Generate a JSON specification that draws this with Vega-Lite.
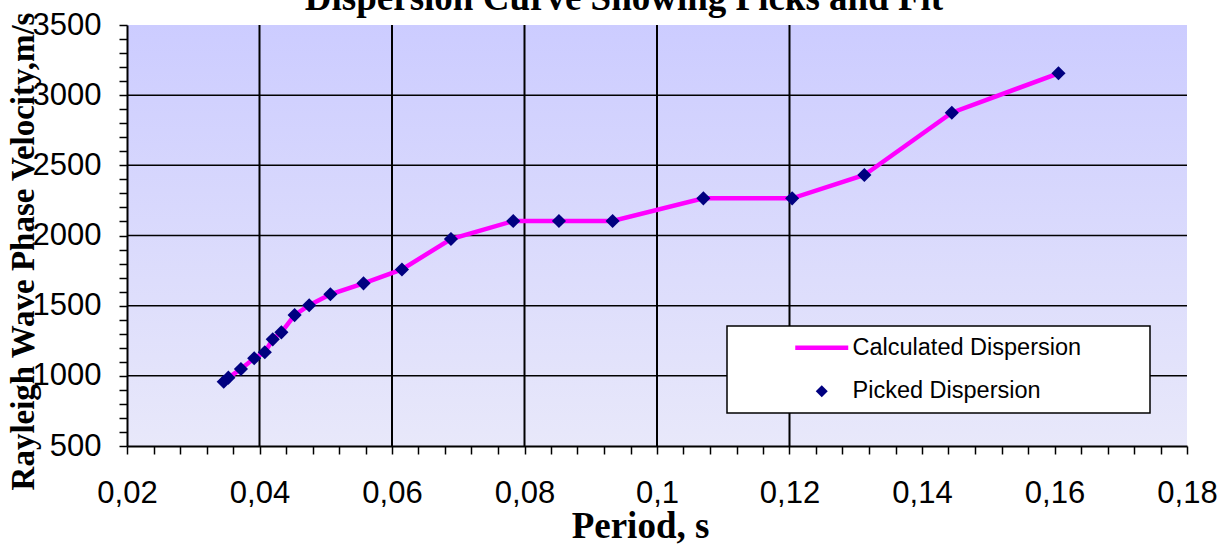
{
  "$schema": "https://vega.github.io/schema/vega-lite/v6.json",
  "width": 1060,
  "height": 421,
  "autosize": {"type": "none"},
  "padding": {"left": 127, "top": 25, "right": 39, "bottom": 112},
  "background": "white",
  "title": {
    "text": "Dispersion Curve Showing Picks and Fit",
    "font": "Liberation Serif",
    "fontSize": 37,
    "fontWeight": "bold",
    "color": "black",
    "anchor": "middle",
    "frame": "group",
    "dx": -33,
    "dy": 38,
    "baseline": "alphabetic",
    "offset": 0
  },
  "config": {"view": {"stroke": null}, "axis": {"labelOverlap": false}},
  "datasets": {
    "picks": [
      {"period": 0.0346, "velocity": 958},
      {"period": 0.0353, "velocity": 987},
      {"period": 0.0372, "velocity": 1049},
      {"period": 0.0392, "velocity": 1125},
      {"period": 0.0408, "velocity": 1168},
      {"period": 0.0420, "velocity": 1260},
      {"period": 0.0433, "velocity": 1310},
      {"period": 0.0453, "velocity": 1433},
      {"period": 0.0475, "velocity": 1503},
      {"period": 0.0507, "velocity": 1581},
      {"period": 0.0557, "velocity": 1659},
      {"period": 0.0615, "velocity": 1758},
      {"period": 0.0689, "velocity": 1975},
      {"period": 0.0783, "velocity": 2103},
      {"period": 0.0852, "velocity": 2103},
      {"period": 0.0933, "velocity": 2103},
      {"period": 0.1070, "velocity": 2265},
      {"period": 0.1204, "velocity": 2265},
      {"period": 0.1313, "velocity": 2431},
      {"period": 0.1445, "velocity": 2875},
      {"period": 0.1606, "velocity": 3156}
    ],
    "vgrid": [
      {"period": 0.04}, {"period": 0.06}, {"period": 0.08}, {"period": 0.1}, {"period": 0.12}
    ],
    "hgrid": [
      {"velocity": 1000}, {"velocity": 1500}, {"velocity": 2000}, {"velocity": 2500}, {"velocity": 3000}
    ]
  },
  "layer": [
    {
      "data": {"values": [{}]},
      "mark": {
        "type": "rect",
        "fill": {
          "gradient": "linear",
          "x1": 0, "y1": 0, "x2": 0, "y2": 1,
          "stops": [
            {"offset": 0, "color": "#CCCCFF"},
            {"offset": 1, "color": "#E8E8FA"}
          ]
        }
      },
      "encoding": {
        "x": {
          "datum": 0.02,
          "type": "quantitative",
          "title": "Period, s",
          "scale": {"domain": [0.02, 0.18], "nice": false, "zero": false},
          "axis": {
            "values": [0.02, 0.024, 0.028, 0.032, 0.036, 0.04, 0.044, 0.048, 0.052, 0.056, 0.06, 0.064, 0.068, 0.072, 0.076, 0.08, 0.084, 0.088, 0.092, 0.096, 0.1, 0.104, 0.108, 0.112, 0.116, 0.12, 0.124, 0.128, 0.132, 0.136, 0.14, 0.144, 0.148, 0.152, 0.156, 0.16, 0.164, 0.168, 0.172, 0.176, 0.18],
            "tickCount": 200,
            "labelExpr": "abs(datum.value*50 - round(datum.value*50)) < 0.001 ? replace(format(datum.value, '.2~f'), '.', ',') : ''",
            "labelFont": "Liberation Sans",
            "labelFontSize": 31,
            "labelColor": "black",
            "labelBaseline": "alphabetic",
            "labelPadding": 48,
            "labelFlush": false,
            "labelOverlap": false,
            "tickSize": 8,
            "tickColor": "black",
            "tickWidth": 1.5,
            "domainColor": "black",
            "domainWidth": 2,
            "grid": false,
            "title": "Period, s",
            "titleFont": "Liberation Serif",
            "titleFontSize": 37,
            "titleFontWeight": "bold",
            "titleColor": "black",
            "titleX": 513,
            "titleY": 91,
            "titleAlign": "center",
            "titleBaseline": "alphabetic",
            "zindex": 1
          }
        },
        "x2": {"datum": 0.18},
        "y": {
          "datum": 500,
          "type": "quantitative",
          "title": "Rayleigh Wave Phase Velocity,m/s",
          "scale": {"domain": [500, 3500], "nice": false, "zero": false},
          "axis": {
            "values": [500, 600, 700, 800, 900, 1000, 1100, 1200, 1300, 1400, 1500, 1600, 1700, 1800, 1900, 2000, 2100, 2200, 2300, 2400, 2500, 2600, 2700, 2800, 2900, 3000, 3100, 3200, 3300, 3400, 3500],
            "tickCount": 200,
            "labelExpr": "datum.value % 500 === 0 ? format(datum.value, 'd') : ''",
            "labelFont": "Liberation Sans",
            "labelFontSize": 31,
            "labelColor": "black",
            "labelPadding": 18,
            "labelFlush": false,
            "labelOverlap": false,
            "tickSize": 8,
            "tickColor": "black",
            "tickWidth": 1.5,
            "domainColor": "black",
            "domainWidth": 2,
            "grid": false,
            "title": "Rayleigh Wave Phase Velocity,m/s",
            "titleFont": "Liberation Serif",
            "titleFontSize": 33,
            "titleFontWeight": "bold",
            "titleColor": "black",
            "titleAngle": -90,
            "titleX": -94,
            "titleY": 226,
            "titleAlign": "center",
            "titleBaseline": "alphabetic",
            "zindex": 1
          }
        },
        "y2": {"datum": 3500}
      }
    },
    {
      "data": {"name": "vgrid"},
      "mark": {"type": "rule", "color": "black", "strokeWidth": 2},
      "encoding": {
        "x": {"field": "period", "type": "quantitative", "title": "Period, s"}
      }
    },
    {
      "data": {"name": "hgrid"},
      "mark": {"type": "rule", "color": "black", "strokeWidth": 1.5},
      "encoding": {
        "y": {"field": "velocity", "type": "quantitative", "title": "Rayleigh Wave Phase Velocity,m/s"}
      }
    },
    {
      "data": {"name": "picks"},
      "mark": {"type": "line", "strokeWidth": 4.5},
      "encoding": {
        "x": {"field": "period", "type": "quantitative", "title": "Period, s"},
        "y": {"field": "velocity", "type": "quantitative", "title": "Rayleigh Wave Phase Velocity,m/s"},
        "color": {
          "datum": "Calculated Dispersion",
          "type": "nominal",
          "scale": {"domain": ["Calculated Dispersion", "Picked Dispersion"], "range": ["#FF00FF", "#000080"]},
          "legend": {
            "orient": "none",
            "legendX": 600,
            "legendY": 301,
            "title": "MM",
            "titleOrient": "right",
            "titleColor": "white",
            "titleFont": "Liberation Sans",
            "titleFontSize": 23,
            "titleFontWeight": "normal",
            "titlePadding": 20,
            "fillColor": "white",
            "strokeColor": "black",
            "padding": 10,
            "rowPadding": 18.6,
            "symbolSize": 144,
            "symbolOffset": 73,
            "labelOffset": 19,
            "labelLimit": 0,
            "labelFont": "Liberation Sans",
            "labelFontSize": 23.5,
            "labelColor": "black",
            "encode": {
              "legend": {"update": {"strokeWidth": {"value": 1.5}}},
              "symbols": {
                "update": {
                  "shape": {"signal": "datum.value === 'Calculated Dispersion' ? 'stroke' : 'diamond'"},
                  "size": {"signal": "datum.value === 'Calculated Dispersion' ? 2809 : 144"},
                  "strokeWidth": {"signal": "datum.value === 'Calculated Dispersion' ? 4.5 : 0"},
                  "fill": {"signal": "datum.value === 'Calculated Dispersion' ? 'transparent' : '#000080'"},
                  "stroke": {"signal": "datum.value === 'Calculated Dispersion' ? '#FF00FF' : '#000080'"},
                  "opacity": {"value": 1}
                }
              }
            }
          }
        }
      }
    },
    {
      "data": {"name": "picks"},
      "mark": {"type": "point", "shape": "diamond", "filled": true, "size": 200, "opacity": 1},
      "encoding": {
        "x": {"field": "period", "type": "quantitative", "title": "Period, s"},
        "y": {"field": "velocity", "type": "quantitative", "title": "Rayleigh Wave Phase Velocity,m/s"},
        "color": {"datum": "Picked Dispersion", "type": "nominal"}
      }
    }
  ]
}
